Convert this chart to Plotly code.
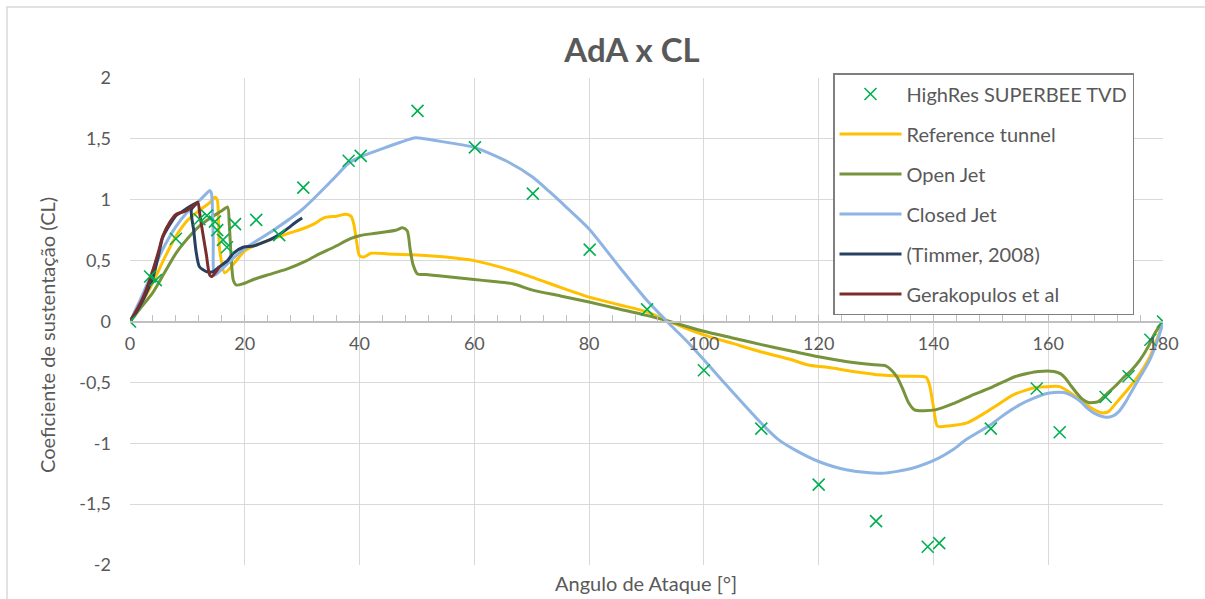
import plotly.graph_objects as go

# ---------------- data ----------------
hr_x = [0, 3.5, 4.5, 8, 12.1, 13.4, 14.8, 15.2, 16.2, 16.9, 18.3, 22, 26, 30.2, 38.1, 40.2,
        50.1, 60.1, 70.2, 80.1, 90.1, 100, 110, 120, 130, 139, 141, 150, 158, 162, 170, 174, 177.8, 180]
hr_y = [0, 0.37, 0.34, 0.68, 0.84, 0.87, 0.82, 0.75, 0.67, 0.61, 0.80, 0.835, 0.71, 1.10, 1.32, 1.36,
        1.73, 1.43, 1.05, 0.59, 0.10, -0.40, -0.88, -1.34, -1.64, -1.85, -1.82, -0.88, -0.55, -0.91, -0.62, -0.45, -0.15, 0.0]

ref_x = [0, 2, 4, 6, 8, 10, 12, 14, 14.8, 15.2, 15.6, 16.5, 18, 20, 22, 25, 28, 30, 32, 34, 36, 37.6, 38.5, 39,
         39.5, 40, 40.8, 42, 45, 50, 55, 60, 65, 70, 75, 80, 85, 90, 94, 100, 105, 110, 115, 118, 122, 126,
         131, 135, 138.7, 139.3, 140, 140.7, 142, 144, 146, 149, 151, 154, 158, 160, 162, 164.3, 166, 167.5,
         169.3, 170.5, 172, 174, 175.5, 177.7, 179, 180]
ref_y = [0, 0.15, 0.32, 0.52, 0.70, 0.83, 0.91, 0.98, 1.02, 1.0, 0.6, 0.40, 0.47, 0.58, 0.63, 0.68, 0.73, 0.76,
         0.80, 0.855, 0.865, 0.88, 0.865, 0.80, 0.65, 0.54, 0.53, 0.56, 0.555, 0.547, 0.53, 0.50, 0.44, 0.365,
         0.28, 0.20, 0.14, 0.08, 0.0, -0.11, -0.18, -0.25, -0.31, -0.355, -0.38, -0.41, -0.44, -0.45, -0.457,
         -0.52, -0.70, -0.86, -0.86, -0.85, -0.83, -0.75, -0.69, -0.60, -0.54, -0.535, -0.535, -0.60, -0.66,
         -0.71, -0.75, -0.74, -0.66, -0.55, -0.46, -0.29, -0.14, -0.01]

oj_x = [0, 2, 4, 6, 8, 10, 12, 14, 15, 16, 17, 17.3, 17.6, 18, 18.5, 19.7, 21.5, 23.8, 27.3, 30.8, 33, 35.5,
        38.4, 40, 42.8, 46.3, 47.5, 48.3, 48.8, 49.3, 50.1, 51.5, 55, 60, 63, 66.7, 70, 75, 80, 85, 90, 94,
        100, 105, 110, 115, 120, 125, 129.7, 131.7, 132.7, 133.7, 134.7, 135.7, 136.7, 140.3, 143.7, 146.5,
        149.7, 152, 154.3, 156.5, 158.3, 161, 162.2, 163, 164, 165, 166, 167, 168.7, 170.3, 171.7, 173,
        174.5, 176, 177.5, 178.3, 179.2, 180]
oj_y = [0, 0.12, 0.24, 0.40, 0.56, 0.68, 0.78, 0.85, 0.88, 0.91, 0.94, 0.80, 0.55, 0.34, 0.30, 0.31, 0.345,
        0.38, 0.43, 0.50, 0.555, 0.61, 0.68, 0.705, 0.725, 0.75, 0.77, 0.745, 0.60, 0.47, 0.39, 0.386, 0.37,
        0.345, 0.33, 0.31, 0.26, 0.21, 0.16, 0.105, 0.05, 0.0, -0.08, -0.135, -0.19, -0.24, -0.29, -0.33,
        -0.356, -0.364, -0.40, -0.46, -0.56, -0.67, -0.726, -0.726, -0.67, -0.61, -0.55, -0.50, -0.452,
        -0.425, -0.41, -0.41, -0.43, -0.466, -0.53, -0.59, -0.64, -0.665, -0.658, -0.59, -0.53, -0.466,
        -0.40, -0.315, -0.20, -0.12, -0.05, 0.0]

cj_x = [0, 2, 4, 6, 8, 10, 12, 13.3, 13.9, 14.2, 14.5, 14.75, 16, 18, 20, 25, 30, 35.2, 38.1, 40, 44, 47,
        49.8, 52.7, 56, 60, 65.5, 70.2, 73, 76, 80, 85.3, 90.1, 94, 97, 100, 105, 110, 113, 115.7, 120, 125,
        131, 136.3, 141, 143.5, 145.7, 149.9, 152.5, 155, 157.5, 160, 162.7, 164.5, 165.7, 167, 168, 170,
        171.3, 172.3, 173.5, 174.7, 176.2, 177.7, 179, 180]
cj_y = [0, 0.2, 0.42, 0.62, 0.78, 0.90, 0.99, 1.05, 1.077, 1.05, 0.70, 0.38, 0.43, 0.52, 0.60, 0.75, 0.92,
        1.16, 1.30, 1.35, 1.42, 1.47, 1.51, 1.49, 1.465, 1.43, 1.32, 1.185, 1.07, 0.94, 0.76, 0.446, 0.172,
        -0.02, -0.16, -0.315, -0.58, -0.836, -0.97, -1.05, -1.15, -1.22, -1.247, -1.205, -1.12, -1.05, -0.97,
        -0.85, -0.76, -0.685, -0.63, -0.59, -0.584, -0.62, -0.66, -0.72, -0.753, -0.786, -0.775, -0.74,
        -0.66, -0.56, -0.44, -0.315, -0.16, -0.01]

tim_x = [0, 1, 2.2, 3, 4, 5, 5.7, 7, 8, 9, 9.8, 11, 11.8, 10.7, 11.1, 11.5, 12.1, 13.3, 14.5, 15.6, 17, 18,
         19.7, 21.5, 23, 24.5, 26, 27.5, 29, 30]
tim_y = [0, 0.07, 0.17, 0.25, 0.36, 0.55, 0.69, 0.80, 0.87, 0.90, 0.926, 0.96, 0.98, 0.92, 0.75, 0.58, 0.45,
         0.41, 0.41, 0.45, 0.50, 0.56, 0.61, 0.62, 0.645, 0.675, 0.715, 0.765, 0.82, 0.85]

ger_x = [0, 1, 2.2, 3.5, 5, 5.7, 7, 8, 9.8, 11, 11.8, 12.2, 12.7, 13.3, 13.9, 14.3, 15, 15.6]
ger_y = [0, 0.08, 0.19, 0.35, 0.58, 0.70, 0.82, 0.88, 0.91, 0.95, 0.98, 0.87, 0.72, 0.55, 0.38, 0.37, 0.41, 0.45]

y_tickvals = [-2, -1.5, -1, -0.5, 0, 0.5, 1, 1.5, 2]
y_ticktext = ["-2", "-1,5", "-1", "-0,5", "0", "0,5", "1", "1,5", "2"]
x_tickvals = [0, 20, 40, 60, 80, 100, 120, 140, 160, 180]

# ---------------- figure ----------------
FONT = "Lato"
GREY = "#595959"
fig = go.Figure()

lines = [
    ("Reference tunnel", ref_x, ref_y, "#FFC000", 2),
    ("Open Jet", oj_x, oj_y, "#77933C", 3),
    ("Closed Jet", cj_x, cj_y, "#8EB4E3", 4),
    ("(Timmer, 2008)", tim_x, tim_y, "#254061", 5),
    ("Gerakopulos et al", ger_x, ger_y, "#7B2C2C", 6),
]
for name, xs, ys, col, rank in lines:
    fig.add_trace(go.Scatter(x=xs, y=ys, mode="lines", name=name,
                             line=dict(color=col, width=3, shape="spline", smoothing=0.7),
                             legendgroup=name, legendrank=rank))

fig.add_trace(go.Scatter(x=hr_x, y=hr_y, mode="markers", name="HighRes SUPERBEE TVD",
                         marker=dict(symbol="x-thin", size=12,
                                     line=dict(width=1.6, color="#00B050"), color="#00B050"),
                         legendgroup="hr", legendrank=1))

fig.update_layout(
    width=1205, height=599,
    margin=dict(l=130, r=42, t=78, b=34),
    paper_bgcolor="white", plot_bgcolor="white",
    font=dict(family=FONT, color=GREY, size=18),
    title=dict(text="<b>AdA x CL</b>", x=632 / 1205, xanchor="center",
               y=1 - 50 / 599, yanchor="middle", xref="container", yref="container",
               font=dict(size=33, color=GREY, family=FONT)),
    showlegend=True,
    legend=dict(x=(833 - 130) / 1033, y=(565 - 73) / 487, xanchor="left", yanchor="top",
                bordercolor="#7F7F7F", borderwidth=1.5, bgcolor="white",
                font=dict(size=20, color=GREY, family=FONT),
                tracegroupgap=11, itemwidth=62),
    xaxis=dict(range=[0, 180], tickvals=x_tickvals, showgrid=True, gridcolor="#D9D9D9", gridwidth=1.3,
               anchor="free", position=0.5, showline=True, linecolor="#BFBFBF", linewidth=1.5,
               ticks="inside", ticklen=6, tickcolor="#BFBFBF", ticklabelstandoff=6,
               minor=dict(dtick=4, tick0=0, ticks="inside", ticklen=6, tickcolor="#BFBFBF", showgrid=False),
               zeroline=False, tickfont=dict(size=18, color=GREY)),
    yaxis=dict(range=[-2, 2], tickvals=y_tickvals, ticktext=y_ticktext, showgrid=True,
               gridcolor="#D9D9D9", gridwidth=1.3, zeroline=False, showline=False,
               ticks="", ticklabelstandoff=18, tickfont=dict(size=18, color=GREY)),
    shapes=[dict(type="rect", xref="paper", yref="paper",
                 x0=(7 - 130) / 1033, x1=1.1, y0=-0.2, y1=(565 - 7) / 487,
                 line=dict(color="#D9D9D9", width=1.5), fillcolor="rgba(0,0,0,0)", layer="below")],
    annotations=[
        dict(text="Angulo de Ataque [°]", xref="paper", yref="paper", x=(646 - 130) / 1033,
             y=(565 - 583) / 487, xanchor="center", yanchor="middle", showarrow=False,
             font=dict(size=20, color=GREY, family=FONT)),
        dict(text="Coeficiente de sustentação (CL)", xref="paper", yref="paper",
             x=(47 - 130) / 1033, y=(565 - 335) / 487, xanchor="center", yanchor="middle",
             textangle=-90, showarrow=False, font=dict(size=20, color=GREY, family=FONT)),
    ],
)

fig.write_html("out.html")
